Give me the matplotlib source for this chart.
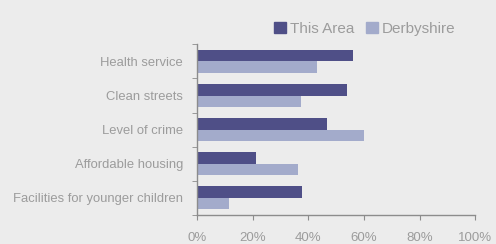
import matplotlib
matplotlib.use('Agg')
import matplotlib.pyplot as plt
import numpy as np
from matplotlib.patches import Patch

categories = ['Health service', 'Clean streets', 'Level of crime',
              'Affordable housing', 'Facilities for younger children']
this_area = [56.0, 53.9, 46.7, 21.2, 37.7]
derbyshire = [43.1, 37.4, 60.0, 36.3, 11.5]
xticks = [0, 20, 40, 60, 80, 100]

plt.rcParams['font.family'] = ['Liberation Sans', 'DejaVu Sans']

bg = '#ececec'
dark = '#4f4f87'
light = '#a3abcb'
txt = '#9c9c9c'
axc = '#8c8c8c'

fig = plt.figure(figsize=(4.96, 2.44), dpi=100, facecolor=bg)
ax = fig.add_axes([0.397, 0.12, 0.561, 0.698])
ax.set_facecolor(bg)

y = np.arange(len(categories))
h = 0.34
ax.barh(y - h / 2, this_area, height=h, color=dark)
ax.barh(y + h / 2, derbyshire, height=h, color=light)

ax.set_xlim(0, 100)
ax.set_ylim(len(categories) - 0.5, -0.5)
ax.set_xticks(xticks)
ax.set_xticklabels([f'{v}%' for v in xticks])
ax.set_yticks(y)
ax.set_yticklabels(categories)
ax.set_yticks(np.arange(len(categories) + 1) - 0.5, minor=True)

for s in ['top', 'right']:
    ax.spines[s].set_visible(False)
for s in ['left', 'bottom']:
    ax.spines[s].set_color(axc)
    ax.spines[s].set_linewidth(1.0)

ax.tick_params(axis='y', which='major', length=0, pad=10, labelsize=9.4, labelcolor=txt)
ax.tick_params(axis='y', which='minor', length=3.6, color=axc, direction='out')
ax.tick_params(axis='x', length=3.6, color=axc, direction='out', pad=8.5, labelsize=9.5, labelcolor=txt)

handles = [Patch(color=dark), Patch(color=light)]
fig.legend(handles, ['This Area', 'Derbyshire'], loc='center', bbox_to_anchor=(0.735, 0.881),
           ncol=2, frameon=False, fontsize=11, labelcolor=txt,
           handlelength=0.78, handleheight=0.78, handletextpad=0.26, columnspacing=0.78)

fig.savefig('out.png', dpi=100, facecolor=bg)
